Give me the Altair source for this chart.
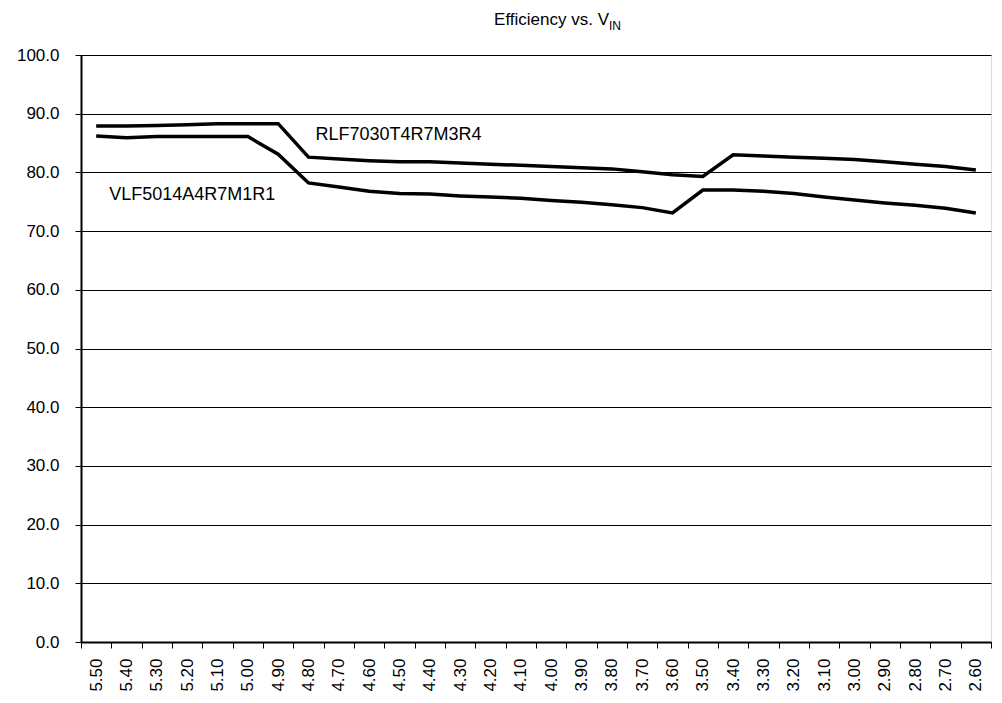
import altair as alt
import pandas as pd

vin = ["5.50", "5.40", "5.30", "5.20", "5.10", "5.00", "4.90", "4.80", "4.70", "4.60",
       "4.50", "4.40", "4.30", "4.20", "4.10", "4.00", "3.90", "3.80", "3.70", "3.60",
       "3.50", "3.40", "3.30", "3.20", "3.10", "3.00", "2.90", "2.80", "2.70", "2.60"]

rlf = [87.9, 87.9, 88.0, 88.1, 88.3, 88.3, 88.3, 82.6, 82.3, 82.0,
       81.8, 81.8, 81.6, 81.4, 81.2, 81.0, 80.8, 80.6, 80.1, 79.6,
       79.3, 83.0, 82.8, 82.6, 82.4, 82.2, 81.8, 81.4, 81.0, 80.4]

vlf = [86.2, 85.9, 86.1, 86.1, 86.1, 86.1, 83.1, 78.2, 77.5, 76.8,
       76.4, 76.3, 76.0, 75.8, 75.6, 75.2, 74.9, 74.5, 74.0, 73.1,
       77.0, 77.0, 76.8, 76.4, 75.8, 75.3, 74.8, 74.4, 73.9, 73.1]

series_names = ["RLF7030T4R7M3R4", "VLF5014A4R7M1R1"]
y_ticks = [0, 10, 20, 30, 40, 50, 60, 70, 80, 90, 100]

# label anchors (category, value)
label_vin = ["4.80", "5.50"]
label_val = [86.4, 76.2]

title_main = "Efficiency vs. V"
title_sub = "IN"

FONT = "Liberation Sans"

df = pd.DataFrame({
    "vin": vin * 2,
    "series": [series_names[0]] * len(vin) + [series_names[1]] * len(vin),
    "value": rlf + vlf,
})

xscale = alt.Scale(type="band", paddingInner=0, paddingOuter=0, domain=vin)
yscale = alt.Scale(domain=[0, 100], nice=False)

x_axis = alt.Axis(title=None, labelAngle=-90, tickBand="extent", tickSize=6,
                  tickColor="black", domainColor="black", domainWidth=2,
                  labelPadding=10, labelFontSize=17, labelColor="black",
                  labelFont=FONT, grid=False)
y_axis = alt.Axis(title=None, values=y_ticks, format=".1f", tickSize=6,
                  tickColor="black", domainColor="black", domainWidth=2,
                  labelPadding=16, labelFontSize=17, labelColor="black",
                  labelFont=FONT, grid=True, gridColor="black", gridWidth=1,
                  gridOpacity=1)

lines = alt.Chart(df).mark_line(color="black", strokeWidth=3.5).encode(
    x=alt.X("vin:N", sort=vin, scale=xscale, axis=x_axis, bandPosition=0.5),
    y=alt.Y("value:Q", scale=yscale, axis=y_axis),
    detail="series:N",
)

lab1 = alt.Chart(pd.DataFrame({"vin": [label_vin[0]], "value": [label_val[0]],
                               "t": [series_names[0]]})).mark_text(
    align="left", baseline="middle", dx=7, fontSize=18, font=FONT, color="black"
).encode(x=alt.X("vin:N", sort=vin, bandPosition=0.5), y="value:Q", text="t:N")

lab2 = alt.Chart(pd.DataFrame({"vin": [label_vin[1]], "value": [label_val[1]],
                               "t": [series_names[1]]})).mark_text(
    align="left", baseline="middle", dx=13, fontSize=18, font=FONT, color="black"
).encode(x=alt.X("vin:N", sort=vin, bandPosition=0.5), y="value:Q", text="t:N")

t_main = alt.Chart(pd.DataFrame({"t": [title_main]})).mark_text(
    align="right", baseline="alphabetic", fontSize=17, font=FONT, color="black"
).encode(x=alt.value(528), y=alt.value(-30), text="t:N")

t_sub = alt.Chart(pd.DataFrame({"t": [title_sub]})).mark_text(
    align="left", baseline="alphabetic", fontSize=12, font=FONT, color="black"
).encode(x=alt.value(528), y=alt.value(-25), text="t:N")

chart = alt.layer(lines, lab1, lab2, t_main, t_sub).properties(
    width=910, height=587,
    padding={"left": 8, "top": 3, "right": 0, "bottom": 0},
).configure_view(stroke=None).configure(background="white")

chart.save("out.html", embed_options={"renderer": "svg", "actions": False})
